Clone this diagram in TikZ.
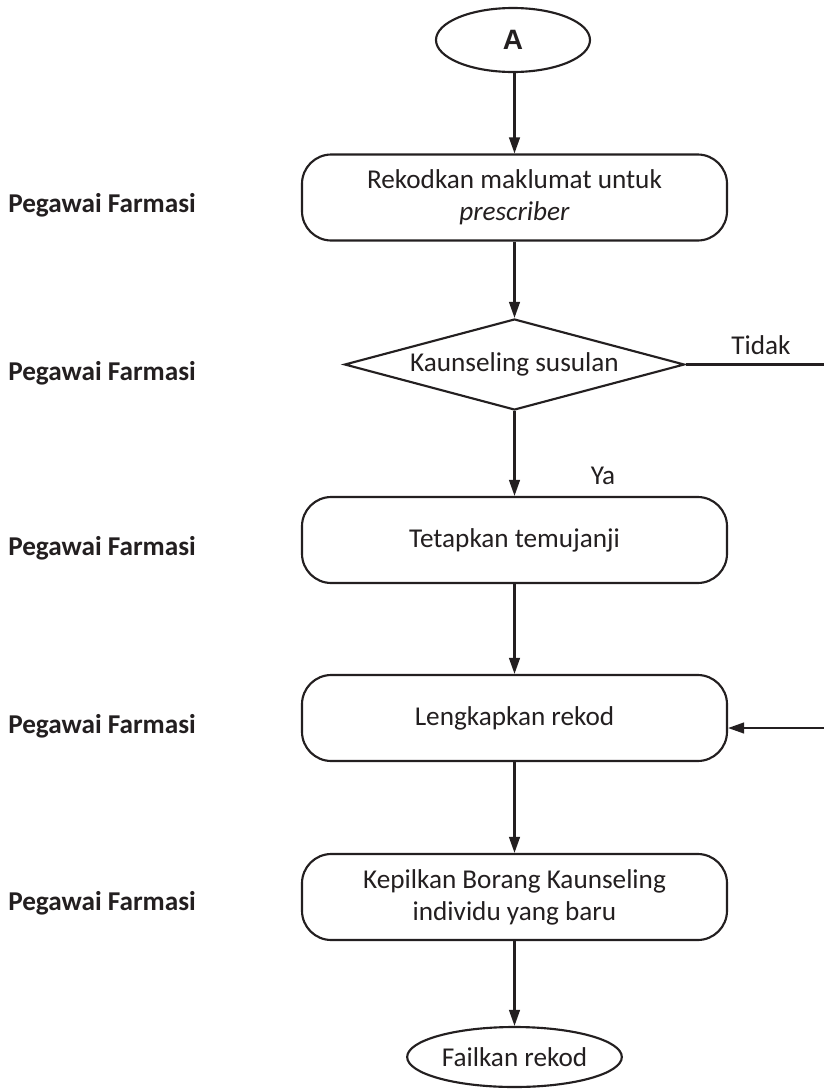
\documentclass[tikz,border=0pt]{standalone}
\usepackage{fontspec}
\setmainfont{Carlito}
\newfontfamily\arialfont{Liberation Sans}
\usetikzlibrary{shapes.geometric,arrows.meta}
\definecolor{ink}{RGB}{35,31,32}
\tikzset{
  stepbox/.style={draw=ink, line width=1.6pt, rounded corners=22pt, minimum width=318.75pt, minimum height=64.5pt, align=center, inner sep=0pt, text=ink, font=\fontsize{20.4}{24}\selectfont},
  ovalnode/.style={draw=ink, line width=1.6pt, ellipse, inner sep=0pt, text=ink},
  decision/.style={draw=ink, line width=1.6pt, diamond, aspect=3.74, inner sep=0pt, minimum width=255pt, minimum height=68.25pt, text=ink, font=\fontsize{20.4}{24}\selectfont},
  rolelabel/.style={anchor=west, inner sep=0pt, text=ink, font=\fontsize{20.4}{24}\selectfont\bfseries},
  flowlabel/.style={inner sep=0pt, text=ink, font=\fontsize{20.4}{24}\selectfont},
  arr/.style={draw=ink, line width=1.6pt, -{Triangle[length=12pt,width=8pt]}},
  plain/.style={draw=ink, line width=1.6pt}
}
\begin{document}
\begin{tikzpicture}[x=0.75pt,y=-0.75pt]
\useasboundingbox (0,0) rectangle (824,1089);
\fill[white] (0,0) rectangle (824,1089);

\node[ovalnode, minimum width=115.5pt, minimum height=48pt, font=\arialfont\bfseries\fontsize{21}{24}\selectfont] (a) at (513,40) {A};
\node[stepbox] (b1) at (514.5,197.5) {Rekodkan maklumat untuk\\\textit{prescriber}};
\node[decision] (d) at (514.5,364.5) {Kaunseling susulan};
\node[stepbox] (b2) at (514.5,540) {Tetapkan temujanji};
\node[stepbox] (b3) at (514.5,718) {Lengkapkan rekod};
\node[stepbox] (b4) at (514.5,897) {Kepilkan Borang Kaunseling\\individu yang baru};
\node[ovalnode, minimum width=161pt, minimum height=45pt, font=\fontsize{20.4}{24}\selectfont] (f) at (514.5,1057) {Failkan rekod};

\node[rolelabel] (p1) at (8,205) {Pegawai Farmasi};
\node[rolelabel] (p2) at (8,373) {Pegawai Farmasi};
\node[rolelabel] (p3) at (8,548) {Pegawai Farmasi};
\node[rolelabel] (p4) at (8,726) {Pegawai Farmasi};
\node[rolelabel] (p5) at (8,903) {Pegawai Farmasi};

\node[flowlabel] (tidak) at (761,345) {Tidak};
\node[flowlabel] (ya) at (603,476) {Ya};

\coordinate (r1) at (840,364.5);
\coordinate (r2) at (840,728);

\draw[arr] (a.south -| b1.north) -- (b1.north);
\draw[arr] (b1) -- (d);
\draw[arr] (d) -- (b2);
\draw[arr] (b2) -- (b3);
\draw[arr] (b3) -- (b4);
\draw[arr] (b4) -- (f);
\draw[arr] (d.east) -- (r1) -- (r2) -- (b3.east |- r2);
\end{tikzpicture}
\end{document}
